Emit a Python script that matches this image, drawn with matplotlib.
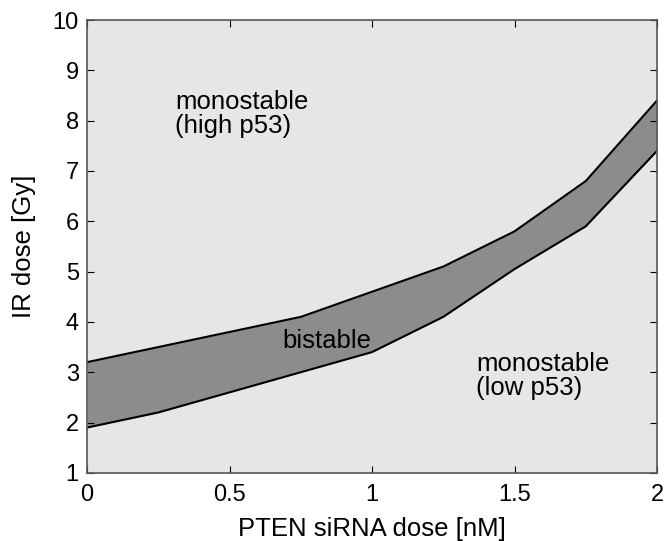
import numpy as np
import matplotlib.pyplot as plt

# PTEN siRNA dose [nM] y limites del region biestable
dosis = [0, 0.25, 0.5, 0.75, 1.0, 1.25, 1.5, 1.75, 2.0]
ir_superior = [3.2, 3.5, 3.8, 4.1, 4.6, 5.1, 5.8, 6.8, 8.4]
ir_inferior = [1.9, 2.2, 2.6, 3.0, 3.4, 4.1, 5.05, 5.9, 7.4]

plt.rcParams['font.family'] = ['Liberation Sans', 'DejaVu Sans']

fig = plt.figure(figsize=(6.65, 5.41), dpi=100)
ax = fig.add_axes([0.131, 0.126, 0.857, 0.837])
ax.set_facecolor('#e6e6e6')

ax.fill_between(dosis, ir_inferior, ir_superior, color='#8c8c8c', lw=0)
ax.plot(dosis, ir_superior, color='black', lw=1.5)
ax.plot(dosis, ir_inferior, color='black', lw=1.5)

ax.text(0.31, 8.6, 'monostable\n(high p53)', fontsize=18.5, va='top', linespacing=0.97)
ax.text(0.685, 3.62, 'bistable', fontsize=18.5, va='center')
ax.text(1.365, 3.4, 'monostable\n(low p53)', fontsize=18.5, va='top', linespacing=0.97)

ax.set_xlim(0, 2)
ax.set_ylim(1, 10)
ax.set_xticks(np.arange(0, 2.01, 0.5))
ax.set_xticklabels(['0', '0.5', '1', '1.5', '2'])
ax.set_yticks(np.arange(1, 11, 1))
ax.tick_params(direction='in', top=True, right=True, labelsize=17, length=5)
ax.tick_params(axis='x', pad=8)
ax.tick_params(axis='y', pad=6)
for s in ax.spines.values():
    s.set_color('#555555')
    s.set_linewidth(1.2)
ax.set_xlabel('PTEN siRNA dose [nM]', fontsize=18.5, labelpad=8)
ax.set_ylabel('IR dose [Gy]', fontsize=18.5, labelpad=12)
plt.savefig('out.png')
